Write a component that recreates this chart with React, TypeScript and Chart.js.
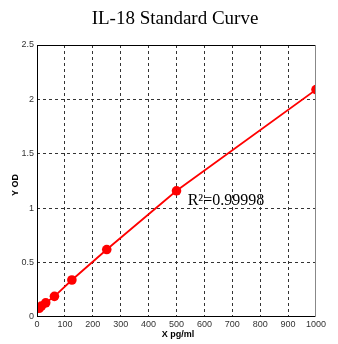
import React, { useEffect, useRef } from "react";
import { Chart, registerables } from "chart.js";

Chart.register(...registerables);

const TITLE = "IL-18 Standard Curve";
const X_TITLE = "X pg/ml";
const Y_TITLE = "Y OD";
const R2_LABEL = "R²=0.99998";
const concentrations = [7.8, 15.6, 31.25, 62.5, 125, 250, 500, 1000];
const odValues = [0.08, 0.1, 0.13, 0.19, 0.34, 0.62, 1.16, 2.09];
const xTicks = [0, 100, 200, 300, 400, 500, 600, 700, 800, 900, 1000];
const yTicks = [0, 0.5, 1, 1.5, 2, 2.5];

const textPlugin = {
  id: "texts",
  afterDraw(chart: any) {
    const { ctx, chartArea, scales } = chart;
    ctx.save();
    ctx.setLineDash([]);
    ctx.lineWidth = 1;
    ctx.strokeStyle = "#000";
    ctx.beginPath();
    ctx.moveTo(chartArea.left + 0.5, chartArea.top);
    ctx.lineTo(chartArea.left + 0.5, chartArea.bottom);
    ctx.moveTo(chartArea.left, chartArea.bottom - 0.5);
    ctx.lineTo(chartArea.right, chartArea.bottom - 0.5);
    ctx.moveTo(chartArea.left, chartArea.top + 0.5);
    ctx.lineTo(chartArea.right, chartArea.top + 0.5);
    ctx.stroke();
    ctx.strokeStyle = "#888";
    ctx.beginPath();
    ctx.moveTo(chartArea.right - 0.5, chartArea.top);
    ctx.lineTo(chartArea.right - 0.5, chartArea.bottom);
    ctx.stroke();
    ctx.fillStyle = "#000";
    ctx.textAlign = "center";
    ctx.textBaseline = "middle";
    ctx.font = "19px 'Liberation Serif', serif";
    ctx.fillText(TITLE, 175, 19);
    ctx.font = "bold 9px 'Liberation Sans', Arial, sans-serif";
    ctx.fillText(X_TITLE, 178, 335);
    ctx.save();
    ctx.translate(16, 185);
    ctx.rotate(-Math.PI / 2);
    ctx.fillText(Y_TITLE, 0, 0);
    ctx.restore();
    ctx.font = "16px 'Liberation Serif', serif";
    ctx.textAlign = "left";
    ctx.textBaseline = "alphabetic";
    const x = scales.x.getPixelForValue(540);
    const y = scales.y.getPixelForValue(1.03);
    ctx.fillText(R2_LABEL, x, y);
    ctx.restore();
  },
};

export default function App() {
  const ref = useRef<HTMLCanvasElement>(null);
  useEffect(() => {
    if (!ref.current) return;
    const chart = new Chart(ref.current, {
      type: "line",
      data: {
        datasets: [
          {
            data: concentrations.map((c, i) => ({ x: c, y: odValues[i] })),
            borderColor: "#ff0000",
            backgroundColor: "#ff0000",
            borderWidth: 1.8,
            pointRadius: 4.8,
            pointBorderWidth: 0,
            pointBackgroundColor: "#ff0000",
            pointBorderColor: "#ff0000",
            tension: 0,
          },
        ],
      },
      options: {
        animation: false,
        responsive: false,
        layout: { padding: { left: 0, right: 22, top: 45, bottom: 0 } },
        plugins: { legend: { display: false }, tooltip: { enabled: false } },
        scales: {
          x: {
            type: "linear",
            min: 0,
            max: 1000,
            afterFit: (s: any) => {
              s.height = 27;
            },
            afterBuildTicks: (s: any) => {
              s.ticks = xTicks.map((v) => ({ value: v }));
            },
            border: { display: false, dash: [3, 3] },
            grid: {
              drawTicks: false,
              color: (c: any) =>
                c.tick && (c.tick.value === 0 || c.tick.value === 1000) ? "rgba(0,0,0,0)" : "#333",
              lineWidth: 1,
            },
            ticks: {
              padding: 2,
              maxRotation: 0,
              autoSkip: false,
              color: "#333",
              callback: (v: any) => String(v),
              font: { size: 9, family: "'Liberation Sans', Arial, sans-serif" },
            },
          },
          y: {
            min: 0,
            max: 2.5,
            afterFit: (s: any) => {
              s.width = 37;
            },
            afterBuildTicks: (s: any) => {
              s.ticks = yTicks.map((v) => ({ value: v }));
            },
            border: { display: false, dash: [3, 3] },
            grid: {
              drawTicks: false,
              color: (c: any) =>
                c.tick && (c.tick.value === 0 || c.tick.value === 2.5) ? "rgba(0,0,0,0)" : "#333",
              lineWidth: 1,
            },
            ticks: {
              padding: 3,
              color: "#333",
              callback: (v: any) => String(v),
              font: { size: 9, family: "'Liberation Sans', Arial, sans-serif" },
            },
          },
        },
      } as any,
      plugins: [textPlugin],
    });
    return () => chart.destroy();
  }, []);
  return (
    <div style={{ position: "fixed", left: 0, top: 0, width: 338, height: 344, background: "#fff" }}>
      <canvas ref={ref} width={338} height={344} style={{ width: 338, height: 344, display: "block" }} />
    </div>
  );
}
